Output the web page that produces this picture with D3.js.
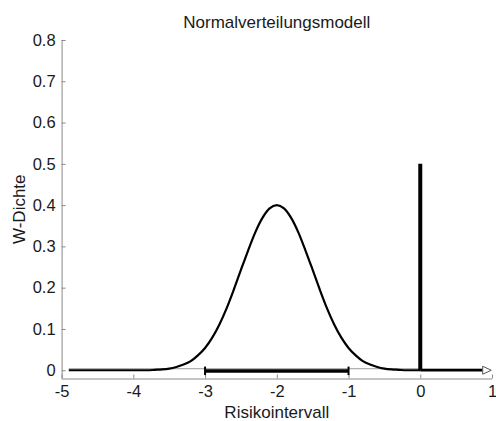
<!DOCTYPE html>
<html>
<head>
<meta charset="utf-8">
<script src="https://cdn.jsdelivr.net/npm/d3@7"></script>
<style>
  html, body { margin: 0; padding: 0; background: #fff; }
  text { font-family: "Liberation Sans", Arial, Helvetica, sans-serif; fill: #1a1a1a; }
</style>
</head>
<body>
<svg id="chart" width="496" height="421"></svg>
<script>
// ---- data ----
const curveX = [-4.9, -4.5, -4.2, -4.0, -3.8, -3.7, -3.6, -3.5, -3.4, -3.3, -3.2, -3.1, -3.0, -2.9, -2.8, -2.7, -2.6, -2.5, -2.4, -2.3, -2.2, -2.1, -2.0,
                -1.9, -1.8, -1.7, -1.6, -1.5, -1.4, -1.3, -1.2, -1.1, -1.0, -0.9, -0.8, -0.7, -0.6, -0.5, -0.4, -0.3, -0.2, -0.1, 0.0];
const curveY = [0.000, 0.000, 0.000, 0.000, 0.000, 0.001, 0.002, 0.004, 0.008, 0.014, 0.022, 0.036, 0.054, 0.079, 0.111, 0.150, 0.195, 0.243, 0.290, 0.334, 0.369, 0.392, 0.400,
                0.392, 0.369, 0.334, 0.290, 0.243, 0.195, 0.150, 0.111, 0.079, 0.054, 0.036, 0.022, 0.014, 0.008, 0.004, 0.002, 0.001, 0.000, 0.000, 0.000];
const intervalX = [-3, -1];        // thick interval bar
const intervalY = -0.002;
const markerX = 0;                 // vertical marker line
const markerTop = 0.5;
const baselineEnd = 0.87;          // arrow line end
const arrowTip = 0.99;
const xTicks = [-5, -4, -3, -2, -1, 0, 1];
const xTickLabels = ["-5", "-4", "-3", "-2", "-1", "0", "1"];
const yTicks = [0, 0.1, 0.2, 0.3, 0.4, 0.5, 0.6, 0.7, 0.8];
const yTickLabels = ["0", "0.1", "0.2", "0.3", "0.4", "0.5", "0.6", "0.7", "0.8"];
const titleText = "Normalverteilungsmodell";
const xLabelText = "Risikointervall";
const yLabelText = "W-Dichte";

// ---- layout ----
const svg = d3.select("#chart");
const x = d3.scaleLinear().domain([-5, 1]).range([61.6, 492]);
const y = d3.scaleLinear().domain([-0.02, 0.8]).range([378.5, 40]);
const axisColor = "#8a8a8a";

// axes (MATLAB style, ticks inside, box off)
const xAxis = svg.append("g").attr("transform", `translate(0,${y(-0.02)})`)
  .call(d3.axisBottom(x).tickValues(xTicks).tickSize(-4).tickPadding(7)
    .tickFormat((d, i) => xTickLabels[i]));
const yAxis = svg.append("g").attr("transform", `translate(${x(-5)},0)`)
  .call(d3.axisLeft(y).tickValues(yTicks).tickSize(-4).tickPadding(6)
    .tickFormat((d, i) => yTickLabels[i]));
[xAxis, yAxis].forEach(g => {
  g.select(".domain").attr("stroke", axisColor).attr("stroke-width", 1);
  g.selectAll(".tick line").attr("stroke", axisColor);
  g.selectAll(".tick text").attr("font-size", 16.5).attr("fill", "#1a1a1a")
    .attr("font-family", "'Liberation Sans', Arial, sans-serif");
});
xAxis.select(".domain").attr("d", `M${x(-5)},0.5H${x(1)}`);
yAxis.select(".domain").attr("d", `M0.5,${y(0.8)}V${y(-0.02)}`);

// thin baseline along y = 0
svg.append("line")
  .attr("x1", x(-4.9)).attr("x2", x(baselineEnd))
  .attr("y1", y(0) - 1.5).attr("y2", y(0) - 1.5)
  .attr("stroke", "#9a9a9a").attr("stroke-width", 1);

// density curve
const pts = curveX.map((v, i) => [v, curveY[i]]);
svg.append("path")
  .datum(pts)
  .attr("fill", "none")
  .attr("stroke", "#000")
  .attr("stroke-width", 2.2)
  .attr("d", d3.line().x(d => x(d[0])).y(d => y(d[1])).curve(d3.curveMonotoneX));

// arrow line from 0 to the right
svg.append("line")
  .attr("x1", x(0)).attr("x2", x(baselineEnd))
  .attr("y1", y(0)).attr("y2", y(0))
  .attr("stroke", "#000").attr("stroke-width", 2.6);
const ax0 = x(baselineEnd), ax1 = x(arrowTip), ay = y(0);
svg.append("path")
  .attr("d", `M${ax0},${ay - 4}L${ax1},${ay}L${ax0},${ay + 4}Z`)
  .attr("fill", "#fff").attr("stroke", "#555").attr("stroke-width", 1);

// vertical marker
svg.append("line")
  .attr("x1", x(markerX)).attr("x2", x(markerX))
  .attr("y1", y(0)).attr("y2", y(markerTop))
  .attr("stroke", "#000").attr("stroke-width", 4);

// interval bar with end caps
svg.append("line")
  .attr("x1", x(intervalX[0])).attr("x2", x(intervalX[1]))
  .attr("y1", y(intervalY)).attr("y2", y(intervalY))
  .attr("stroke", "#000").attr("stroke-width", 3.6);
svg.selectAll(".cap").data(intervalX).enter().append("line")
  .attr("x1", d => x(d)).attr("x2", d => x(d))
  .attr("y1", y(intervalY) - 4.5).attr("y2", y(intervalY) + 4)
  .attr("stroke", "#000").attr("stroke-width", 2);

// texts
const cx = (x(-5) + x(1)) / 2;
svg.append("text").attr("x", cx).attr("y", 27.5).attr("text-anchor", "middle")
  .attr("font-size", 17).text(titleText);
svg.append("text").attr("x", cx).attr("y", 418).attr("text-anchor", "middle")
  .attr("font-size", 17).text(xLabelText);
svg.append("text").attr("transform", `translate(25,${(y(0.8) + y(-0.02)) / 2}) rotate(-90)`)
  .attr("text-anchor", "middle").attr("font-size", 17).text(yLabelText);
</script>
</body>
</html>
